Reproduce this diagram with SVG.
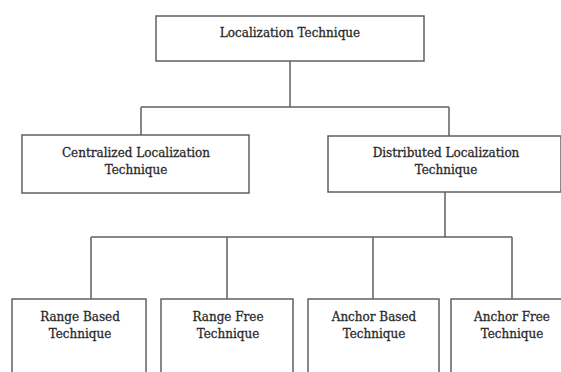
<svg xmlns="http://www.w3.org/2000/svg" width="561" height="372" viewBox="0 0 561 372">
<style>
.box{fill:#fff;stroke:#606060;stroke-width:1.5}
.ln{fill:none;stroke:#606060;stroke-width:1.5}
text{font-family:"DejaVu Serif","Liberation Serif",serif;font-size:12px;fill:#2a2a2a;stroke:#2a2a2a;stroke-width:0.3;text-anchor:middle}
</style>
<rect width="561" height="372" fill="#fff"/>
<g id="connectors">
<path class="ln" d="M290 61V107M141 107H449M141 107V135M449 107V136"/>
<path class="ln" d="M445 192V237M91 237H512M91 237V299M227 237V299M373 237V299M512 237V299"/>
</g>
<g id="n-root"><rect class="box" x="156" y="16" width="268" height="45"/><text x="290" y="37">Localization Technique</text></g>
<g id="n-central"><rect class="box" x="22" y="135" width="227" height="58"/><text x="136" y="157">Centralized Localization</text><text x="136" y="174">Technique</text></g>
<g id="n-distrib"><rect class="box" x="328" y="136" width="233" height="56"/><text x="446" y="157">Distributed Localization</text><text x="446" y="174">Technique</text></g>
<g id="n-rangebased"><rect class="box" x="12" y="299" width="134" height="80"/><text x="80" y="321">Range Based</text><text x="80" y="338">Technique</text></g>
<g id="n-rangefree"><rect class="box" x="161" y="299" width="132" height="80"/><text x="228" y="321">Range Free</text><text x="228" y="338">Technique</text></g>
<g id="n-anchorbased"><rect class="box" x="308" y="299" width="131" height="80"/><text x="374" y="321">Anchor Based</text><text x="374" y="338">Technique</text></g>
<g id="n-anchorfree"><rect class="box" x="451" y="299" width="120" height="80"/><text x="512" y="321">Anchor Free</text><text x="512" y="338">Technique</text></g>
</svg>
